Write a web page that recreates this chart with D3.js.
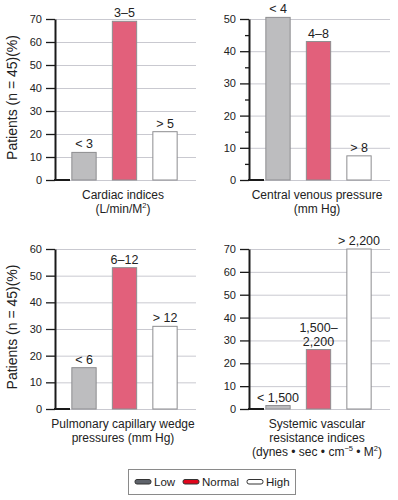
<!DOCTYPE html>
<html>
<head>
<meta charset="utf-8">
<script src="https://cdn.jsdelivr.net/npm/d3@7"></script>
<style>
  body { margin: 0; background: #fff; }
  svg { display: block; font-family: "Liberation Sans", Arial, sans-serif; }
  .grid line { stroke: #c9c9d0; stroke-width: 1; }
  .grid path { display: none; }
  .yaxis path { stroke: #1a1a1a; stroke-width: 2; }
  .yaxis line { stroke: #1a1a1a; stroke-width: 1.3; }
  .yaxis text { font-size: 11px; fill: #222; }
</style>
</head>
<body>
<div id="chart"></div>
<script>
// series names (legend)
var groups = ["Low", "Normal", "High"];
var groupColors = ["#bdbdbf", "#e2607b", "#ffffff"];
var legendColors = ["#5f636b", "#e0061c", "#ffffff"];

// cardiac indices
var cardiacRanges = [["< 3"], ["3–5"], ["> 5"]];
var cardiacValues = [12, 69, 21];
var cardiacTicks = [0, 10, 20, 30, 40, 50, 60, 70];

// central venous pressure
var cvpRanges = [["< 4"], ["4–8"], ["> 8"]];
var cvpValues = [50.5, 43, 7.5];
var cvpTicks = [0, 10, 20, 30, 40, 50];
var cvpMinor = [5, 15, 25, 35, 45];

// pulmonary capillary wedge pressures
var pcwpRanges = [["< 6"], ["6–12"], ["> 12"]];
var pcwpValues = [15.5, 53, 31];
var pcwpTicks = [0, 10, 20, 30, 40, 50, 60];

// systemic vascular resistance indices
var svrRanges = [["< 1,500"], ["1,500–", "2,200"], ["> 2,200"]];
var svrValues = [1.5, 26, 70];
var svrTicks = [0, 10, 20, 30, 40, 50, 60, 70];

var yLabel = "Patients (n  =  45)(%)";

var width = 398, height = 500;

var svg = d3.select("#chart").append("svg")
    .attr("width", width)
    .attr("height", height);

svg.append("rect").attr("width", width).attr("height", height).attr("fill", "#fff");

var panels = [
    { x0: 55, top: 19, zero: 180, ranges: cardiacRanges, values: cardiacValues, ticks: cardiacTicks, minor: [],
      title: ["Cardiac indices", "(L/min/M^{2})"], ylab: true },
    { x0: 249, top: 19, zero: 180, ranges: cvpRanges, values: cvpValues, ticks: cvpTicks, minor: cvpMinor,
      title: ["Central venous pressure", "(mm Hg)"], ylab: false },
    { x0: 55, top: 249, zero: 409, ranges: pcwpRanges, values: pcwpValues, ticks: pcwpTicks, minor: [],
      title: ["Pulmonary capillary wedge", "pressures (mm Hg)"], ylab: true },
    { x0: 249, top: 249, zero: 409, ranges: svrRanges, values: svrValues, ticks: svrTicks, minor: [],
      title: ["Systemic vascular", "resistance indices", "(dynes • sec • cm^{−5} • M^{2})"], ylab: false }
];

panels.forEach(function (p) {
    var maxV = p.ticks[p.ticks.length - 1];
    var gridW = 141;

    var y = d3.scaleLinear()
        .domain([0, maxV])
        .range([p.zero, p.top]);

    var x = d3.scaleBand()
        .domain(groups)
        .range([p.x0 + 4.7, p.x0 + 134.3])
        .paddingInner(0.4)
        .paddingOuter(0.3);

    var g = svg.append("g");

    // gridlines
    g.append("g")
        .attr("class", "grid")
        .attr("transform", "translate(" + p.x0 + ",0)")
        .call(d3.axisLeft(y).tickValues(p.ticks).tickSize(-gridW).tickFormat(""));

    // minor ticks
    if (p.minor.length) {
        g.append("g")
            .attr("class", "yaxis")
            .attr("transform", "translate(" + p.x0 + ",0)")
            .call(d3.axisLeft(y).tickValues(p.minor).tickSize(4).tickSizeOuter(0).tickFormat(""))
            .select(".domain").remove();
    }

    // y axis
    g.append("g")
        .attr("class", "yaxis")
        .attr("transform", "translate(" + p.x0 + ",0)")
        .call(d3.axisLeft(y).tickValues(p.ticks).tickSize(9).tickSizeOuter(0).tickPadding(4));

    // thick baseline stub near the axis
    g.append("line")
        .attr("x1", p.x0 - 1).attr("x2", p.x0 + 15)
        .attr("y1", y(0)).attr("y2", y(0))
        .attr("stroke", "#1a1a1a").attr("stroke-width", 2);

    // bars
    g.selectAll(".bar")
        .data(p.values)
        .enter()
        .append("rect")
        .attr("class", "bar")
        .attr("x", function (d, i) { return x(groups[i]); })
        .attr("width", x.bandwidth())
        .attr("y", function (d) { return y(d); })
        .attr("height", function (d) { return y(0) - y(d); })
        .attr("fill", function (d, i) { return groupColors[i]; })
        .attr("stroke", "#8d8d90")
        .attr("stroke-width", 1);

    // range labels above bars
    p.values.forEach(function (v, i) {
        var lines = p.ranges[i];
        var t = g.append("text")
            .attr("text-anchor", "middle")
            .attr("font-size", "12.5px")
            .attr("fill", "#222");
        lines.forEach(function (line, j) {
            t.append("tspan")
                .attr("x", x(groups[i]) + x.bandwidth() / 2)
                .attr("y", y(v) - 4 - (lines.length - 1 - j) * 13.5)
                .text(line);
        });
    });

    // x title (^{..} = superscript)
    p.title.forEach(function (line, j) {
        var t = g.append("text")
            .attr("x", p.x0 + 68)
            .attr("y", p.zero + 18.5 + j * 14)
            .attr("text-anchor", "middle")
            .attr("font-size", "12px")
            .attr("fill", "#222");
        var raised = false;
        line.split(/(\^\{[^}]*\})/).forEach(function (part) {
            if (!part) return;
            if (part.charAt(0) === "^") {
                t.append("tspan")
                    .attr("font-size", "7.5px")
                    .attr("dy", -4.5)
                    .text(part.slice(2, -1));
                raised = true;
            } else {
                var s = t.append("tspan").text(part);
                if (raised) { s.attr("dy", 4.5); raised = false; }
            }
        });
    });

    // y label
    if (p.ylab) {
        g.append("text")
            .attr("transform", "translate(17," + ((p.top + p.zero) / 2 - 2) + ") rotate(-90)")
            .attr("text-anchor", "middle")
            .attr("font-size", "14px")
            .attr("fill", "#222")
            .text(yLabel);
    }
});

// legend
var legend = svg.append("g");
legend.append("rect")
    .attr("x", 128.5).attr("y", 469.5)
    .attr("width", 167).attr("height", 25)
    .attr("fill", "#fff")
    .attr("stroke", "#8a8a8a");

var legendX = [135, 183, 247];
groups.forEach(function (name, i) {
    legend.append("rect")
        .attr("x", legendX[i]).attr("y", 479.5)
        .attr("width", 16).attr("height", 4.5)
        .attr("rx", 2)
        .attr("fill", legendColors[i])
        .attr("stroke", "#333")
        .attr("stroke-width", 1);
    legend.append("text")
        .attr("x", legendX[i] + 19)
        .attr("y", 486)
        .attr("font-size", "11.5px")
        .attr("fill", "#222")
        .text(name);
});
</script>
</body>
</html>
